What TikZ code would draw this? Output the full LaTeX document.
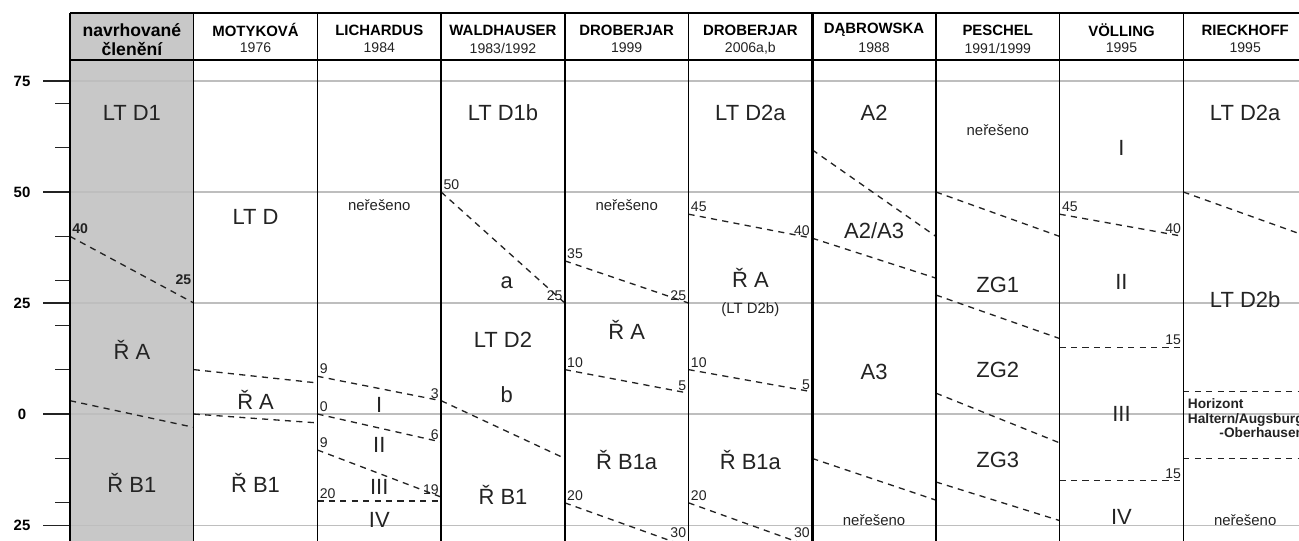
\documentclass[tikz,border=0pt]{standalone}
\usepackage{fontspec}
\setmainfont{Liberation Sans}
\usetikzlibrary{positioning}
\definecolor{colgray}{RGB}{200,200,200}
\definecolor{linegray}{RGB}{190,190,190}
\definecolor{ink}{RGB}{35,35,35}

\begin{document}
\begin{tikzpicture}[x=2.474cm,y=0.0888cm,
  bigtxt/.style={font=\fontsize{12.5}{14}\selectfont,text=ink},
  smalltxt/.style={font=\fontsize{8.5}{10}\selectfont,text=ink},
  hdname/.style={font=\bfseries\fontsize{8.5}{10}\selectfont},
  hdyear/.style={font=\fontsize{8}{10}\selectfont,text=ink},
  numtxt/.style={font=\fontsize{8}{9}\selectfont,text=ink,inner sep=1pt},
  numbold/.style={numtxt,font=\bfseries\fontsize{8}{9}\selectfont},
  axistxt/.style={font=\bfseries\fontsize{8.5}{10}\selectfont},
  bound/.style={dash pattern=on 3.5pt off 3pt,line width=0.75pt,draw=ink},
  colline/.style={line width=0.85pt},
  gridline/.style={line width=0.6pt,draw=linegray}]
\useasboundingbox (-0.566,-28.38) rectangle (9.935,93.24);
\clip (-0.566,-28.38) rectangle (9.935,93.24);

% proposed column
\fill[colgray] (0,-30) rectangle (1,90.3);

% scale
\foreach \v/\t in {75/75,50/50,25/25,0/0,-25/25} {
  \draw[gridline] (0,\v) -- (10.5,\v);
  \draw[line width=0.6pt,draw=ink] (-0.218,\v) -- (0,\v);
  \node[axistxt] (ax\t) at (-0.388,\v) {\t};
}
\foreach \v in {70,60,40,30,20,10,-10,-20}
  \draw[line width=0.6pt,draw=ink] (-0.121,\v) -- (0,\v);

% boundaries
\draw[bound] (0,40) node[numbold,above right] {40} -- (1,25) node[numbold,above left,yshift=9pt] {25};
\draw[bound] (0,3) -- (1,-3);
\draw[bound] (1,10) -- (2,7);
\draw[bound] (1,0) -- (2,-2);
\draw[bound] (2,8.5) node[numtxt,above right] {9} -- (3,3) node[numtxt,above left] {3};
\draw[bound] (2,0) node[numtxt,above right] {0} -- (3,-6.3) node[numtxt,above left] {6};
\draw[bound] (2,-8.1) node[numtxt,above right] {9} -- (3,-18.7) node[numtxt,above left] {19};
\draw[bound] (2,-19.6) node[numtxt,above right] {20} -- (3,-19.6);
\draw[bound] (3,50) node[numtxt,above right] {50} -- (4,25) node[numtxt,above left] {25};
\draw[bound] (3,3) -- (4,-10);
\draw[bound] (4,34.5) node[numtxt,above right] {35} -- (5,25) node[numtxt,above left] {25};
\draw[bound] (4,10) node[numtxt,above right] {10} -- (5,4.7) node[numtxt,above left] {5};
\draw[bound] (4,-20) node[numtxt,above right] {20} -- (5,-30) node[numtxt,above left,yshift=4pt] {30};
\draw[bound] (5,45) node[numtxt,above right] {45} -- (6,39.6) node[numtxt,above left] {40};
\draw[bound] (5,10) node[numtxt,above right] {10} -- (6,5) node[numtxt,above left] {5};
\draw[bound] (5,-20) node[numtxt,above right] {20} -- (6,-30) node[numtxt,above left,yshift=4pt] {30};
\draw[bound] (6,59.5) -- (7,40);
\draw[bound] (6,39.6) -- (7,30.6);
\draw[bound] (6,-10) -- (7,-19.4);
\draw[bound] (7,50) -- (8,40);
\draw[bound] (7,26.8) -- (8,17);
\draw[bound] (7,4.7) -- (8,-6.5);
\draw[bound] (7,-15.3) -- (8,-24);
\draw[bound] (8,45) node[numtxt,above right] {45} -- (9,40) node[numtxt,above left] {40};
\draw[bound] (8,15) -- (9,15) node[numtxt,above left] {15};
\draw[bound] (8,-15) -- (9,-15) node[numtxt,above left] {15};
\draw[bound] (9,50) -- (10,40);
\draw[bound] (9,5) -- (10.5,5);
\draw[bound] (9,-10) -- (10.5,-10);

% columns and header
\foreach \k in {0,...,9}
  \draw[colline] (\k,90.3) -- (\k,-30);
\draw[line width=1.7pt] (6,90.3) -- (6,-30);
\draw[line width=1.1pt] (0,90.3) -- (10.5,90.3);
\draw[line width=1.1pt] (0,79.7) -- (10.5,79.7);

\node[hdname,font=\bfseries\fontsize{10}{12}\selectfont] (n0) at (0.5,86.5) {navrhované};
\node[hdname,font=\bfseries\fontsize{10}{12}\selectfont] (y0) at (0.5,82.1) {členění};
\node[hdname] (n1) at (1.5,86.5) {MOTYKOVÁ};
\node[hdyear] (y1) at (1.5,82.4) {1976};
\node[hdname] (n2) at (2.5,86.5) {LICHARDUS};
\node[hdyear] (y2) at (2.5,82.4) {1984};
\node[hdname] (n3) at (3.5,86.5) {WALDHAUSER};
\node[hdyear] (y3) at (3.5,82.4) {1983/1992};
\node[hdname] (n4) at (4.5,86.5) {DROBERJAR};
\node[hdyear] (y4) at (4.5,82.4) {1999};
\node[hdname] (n5) at (5.5,86.5) {DROBERJAR};
\node[hdyear] (y5) at (5.5,82.4) {2006a,b};
\node[hdname] (n6) at (6.5,86.5) {DĄBROWSKA};
\node[hdyear] (y6) at (6.5,82.4) {1988};
\node[hdname] (n7) at (7.5,86.5) {PESCHEL};
\node[hdyear] (y7) at (7.5,82.4) {1991/1999};
\node[hdname] (n8) at (8.5,86.5) {VÖLLING};
\node[hdyear] (y8) at (8.5,82.4) {1995};
\node[hdname] (n9) at (9.5,86.5) {RIECKHOFF};
\node[hdyear] (y9) at (9.5,82.4) {1995};

% units
\node[bigtxt] (p1) at (0.5,67.8) {LT D1};
\node[bigtxt] (p2) at (0.5,14.4) {Ř A};
\node[bigtxt] (p3) at (0.5,-15.5) {Ř B1};
\node[bigtxt] (m1) at (1.5,44.4) {LT D};
\node[bigtxt] (m2) at (1.5,3.2) {Ř A};
\node[bigtxt] (m3) at (1.5,-15.5) {Ř B1};
\node[smalltxt] (l0) at (2.5,47.1) {neřešeno};
\node[bigtxt] (l1) at (2.5,2) {I};
\node[bigtxt] (l2) at (2.5,-7) {II};
\node[bigtxt] (l3) at (2.5,-16.4) {III};
\node[bigtxt] (l4) at (2.5,-23.9) {IV};
\node[bigtxt] (w1) at (3.5,67.8) {LT D1b};
\node[bigtxt] (w2) at (3.53,29.5) {a};
\node[bigtxt] (w3) at (3.5,16.7) {LT D2};
\node[bigtxt] (w4) at (3.53,4.3) {b};
\node[bigtxt] (w5) at (3.5,-18.2) {Ř B1};
\node[smalltxt] (d0) at (4.5,47.1) {neřešeno};
\node[bigtxt] (d1) at (4.5,18.9) {Ř A};
\node[bigtxt] (d2) at (4.5,-10.4) {Ř B1a};
\node[bigtxt] (e1) at (5.5,67.8) {LT D2a};
\node[bigtxt] (e2) at (5.5,30.6) {Ř A};
\node[smalltxt] (e3) at (5.5,23.4) {(LT D2b)};
\node[bigtxt] (e4) at (5.5,-10.4) {Ř B1a};
\node[bigtxt] (a1) at (6.5,67.8) {A2};
\node[bigtxt] (a2) at (6.5,41.4) {A2/A3};
\node[bigtxt] (a3) at (6.5,9.5) {A3};
\node[smalltxt] (a4) at (6.5,-23.9) {neřešeno};
\node[smalltxt] (z0) at (7.5,64) {neřešeno};
\node[bigtxt] (z1) at (7.5,29) {ZG1};
\node[bigtxt] (z2) at (7.5,9.9) {ZG2};
\node[bigtxt] (z3) at (7.5,-10.4) {ZG3};
\node[bigtxt] (v1) at (8.5,59.9) {I};
\node[bigtxt] (v2) at (8.5,29.7) {II};
\node[bigtxt] (v3) at (8.5,0) {III};
\node[bigtxt] (v4) at (8.5,-23.2) {IV};
\node[bigtxt] (r1) at (9.5,67.8) {LT D2a};
\node[bigtxt] (r2) at (9.5,25.7) {LT D2b};
\node[numbold,anchor=west,align=left,font=\bfseries\fontsize{7.8}{8.2}\selectfont] (r3) at (9.02,-1) {Horizont\\Haltern/Augsburg\\\hspace*{2.3em}-Oberhausen};
\node[smalltxt] (r4) at (9.5,-23.9) {neřešeno};
\end{tikzpicture}
\end{document}
